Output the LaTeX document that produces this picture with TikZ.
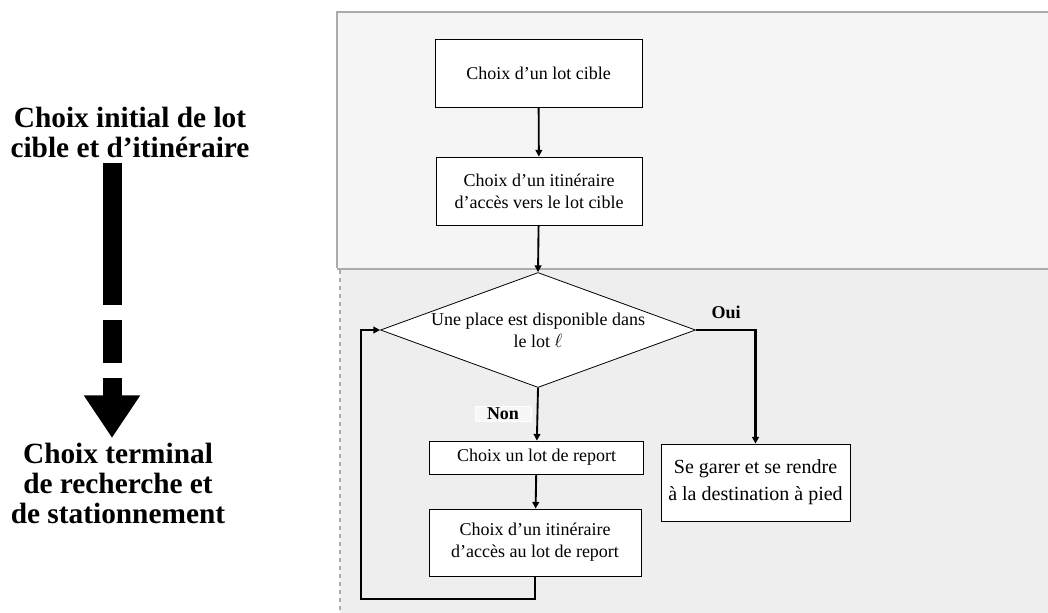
\documentclass[tikz,border=0pt]{standalone}
\usepackage{fontspec}
\setmainfont{Liberation Serif}
\usetikzlibrary{arrows.meta,positioning,shapes.geometric}
\definecolor{PkTopPanel}{HTML}{F5F5F5}
\definecolor{PkLowPanel}{HTML}{EEEEEE}
\definecolor{PkFrame}{HTML}{ABABAB}
\definecolor{PkLabelBg}{HTML}{F7F7F7}
\colorlet{PkInk}{black}

\tikzset{
  flowbox/.style={draw=PkInk, fill=white, align=center, inner sep=2pt, line width=0.6pt,
                  font=\fontsize{13.5}{16.5}\selectfont},
  flowdiamond/.style={flowbox, diamond, aspect=2.74, inner sep=0pt},
  flowarrow/.style={draw=PkInk, line width=1.4pt, -{Triangle[length=5pt,width=5pt]}},
  flowloop/.style={flowarrow, line width=2pt},
  branchlabel/.style={font=\bfseries\fontsize{13.5}{16}\selectfont, inner sep=1pt},
  phaselabel/.style={align=center, font=\bfseries\fontsize{22}{22.5}\selectfont}
}

\begin{document}
\begin{tikzpicture}[x=0.75pt, y=-0.75pt]
  \useasboundingbox (0,0) rectangle (1048,612);

  \fill[PkTopPanel] (337,12) rectangle (1060,268);
  \fill[PkLowPanel] (340,270) rectangle (1060,620);
  \draw[PkFrame, line width=1pt] (1060,12) -- (337,12) -- (337,268);
  \draw[PkFrame, line width=1.5pt] (337,269) -- (1060,269);
  \draw[PkFrame, line width=0.8pt, dashed] (340,270) -- (340,620);

  \node[phaselabel] (initial) at (130,132) {Choix initial de lot\\cible et d’itinéraire};
  \node[phaselabel] (terminal) at (118,483) {Choix terminal\\de recherche et\\de stationnement};
  \coordinate (phasetop) at (112,163);
  \coordinate (phasetip) at (112,438);
  \draw[line width=14.25pt, dash pattern=on 106.5pt off 11.25pt on 32.25pt off 11.25pt on 200pt,
        -{Triangle[length=32pt,width=40pt]}] (phasetop) -- (phasetip);

  \node[flowbox, minimum width=155.25pt, minimum height=51pt] (lotcible) at (538.5,73)
    {Choix d’un lot cible};
  \node[flowbox, minimum width=154.5pt, minimum height=51pt] (itincible) at (539,191)
    {Choix d’un itinéraire\\d’accès vers le lot cible};
  \node[flowdiamond, minimum width=236.25pt, minimum height=86.25pt] (dispo) at (538,330)
    {Une place est disponible dans\\le lot $\ell$};
  \node[flowbox, minimum width=160pt, minimum height=24.75pt] (lotreport) at (536.5,457.5)
    {Choix un lot de report};
  \node[flowbox, minimum width=159pt, minimum height=50.25pt] (itinreport) at (535,542.5)
    {Choix d’un itinéraire\\d’accès au lot de report};
  \node[flowbox, minimum width=141.75pt, minimum height=57.75pt,
        font=\fontsize{15}{20}\selectfont] (garer) at (755.5,482.5)
    {Se garer et se rendre\\à la destination à pied};

  \node[branchlabel] (oui) at (726,312) {Oui};
  \node[branchlabel, fill=PkLabelBg, draw=white, minimum width=42pt] (non) at (503,414) {Non};

  \coordinate (loopcorner) at (361,599);

  \draw[flowarrow] (lotcible) -- (itincible);
  \draw[flowarrow] (itincible) -- (dispo.north);
  \draw[flowarrow] (dispo.south) -- (lotreport);
  \draw[flowarrow] (lotreport) -- (itinreport);
  \draw[flowloop] (itinreport.south) |- (loopcorner) |- (dispo.west);
  \draw[flowloop] (dispo.east) -| (garer.north);
\end{tikzpicture}
\end{document}
